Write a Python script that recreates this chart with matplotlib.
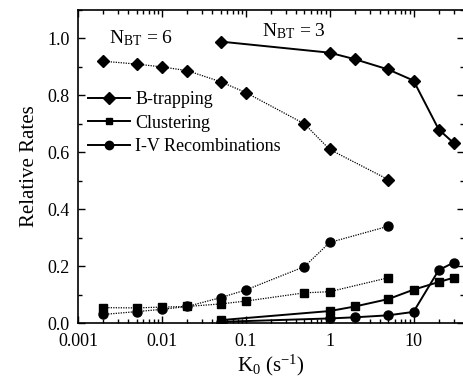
import matplotlib
matplotlib.use("Agg")
import matplotlib.pyplot as plt
from matplotlib.ticker import FixedLocator, FixedFormatter, LogLocator, MultipleLocator, NullFormatter
from matplotlib.lines import Line2D

plt.rcParams['font.family'] = ['Liberation Serif', 'DejaVu Serif']
plt.rcParams['mathtext.fontset'] = 'custom'
plt.rcParams['mathtext.rm'] = 'Liberation Serif'
plt.rcParams['mathtext.it'] = 'Liberation Serif:italic'

# N_BT = 6 (dotted)
k6 = [0.002, 0.005, 0.01, 0.02, 0.05, 0.1, 0.5, 1, 5]
trap6 = [0.92, 0.91, 0.90, 0.887, 0.848, 0.81, 0.70, 0.61, 0.504]
clus6 = [0.054, 0.053, 0.056, 0.058, 0.067, 0.077, 0.106, 0.11, 0.159]
rec6 = [0.03, 0.04, 0.048, 0.058, 0.089, 0.116, 0.198, 0.283, 0.34]

# N_BT = 3 (solid)
k3 = [0.05, 1, 2, 5, 10, 20, 30]
trap3 = [0.989, 0.95, 0.927, 0.891, 0.852, 0.68, 0.633]
clus3 = [0.01, 0.042, 0.058, 0.084, 0.117, 0.144, 0.159]
rec3 = [0.004, 0.016, 0.02, 0.027, 0.039, 0.186, 0.212]

xticks = [0.001, 0.01, 0.1, 1, 10]
xticklabels = ["0.001", "0.01", "0.1", "1", "10"]
yticks = [0.0, 0.2, 0.4, 0.6, 0.8, 1.0]
yticklabels = ["0.0", "0.2", "0.4", "0.6", "0.8", "1.0"]

fig = plt.figure(figsize=(4.63, 3.81), dpi=100)
ax = fig.add_axes([78/463, 1-323/381, (464-78)/463, (323-10)/381])

dot = dict(color='black', linestyle=(0, (1, 1)), linewidth=0.9)
sol = dict(color='black', linestyle='-', linewidth=1.4)

ax.plot(k6, trap6, marker='D', markersize=6, **dot)
ax.plot(k6, clus6, marker='s', markersize=6, **dot)
ax.plot(k6, rec6, marker='o', markersize=6.5, **dot)
ax.plot(k3, trap3, marker='D', markersize=6, **sol)
ax.plot(k3, clus3, marker='s', markersize=6, **sol)
ax.plot(k3, rec3, marker='o', markersize=6.5, **sol)

ax.set_xscale('log')
ax.set_xlim(0.001, 40)
ax.set_ylim(0, 1.1)
ax.xaxis.set_major_locator(FixedLocator(xticks))
ax.xaxis.set_major_formatter(FixedFormatter(xticklabels))
ax.xaxis.set_minor_locator(LogLocator(base=10, subs=range(2, 10), numticks=20))
ax.xaxis.set_minor_formatter(NullFormatter())
ax.yaxis.set_major_locator(FixedLocator(yticks))
ax.yaxis.set_major_formatter(FixedFormatter(yticklabels))
ax.yaxis.set_minor_locator(MultipleLocator(0.1))

ax.tick_params(which='both', direction='in', top=True, right=True, labelsize=13, width=1.0)
ax.tick_params(which='major', length=5)
ax.tick_params(which='minor', length=3)
ax.tick_params(axis='x', which='major', pad=7)
ax.tick_params(axis='y', which='major', pad=6)
for s in ax.spines.values():
    s.set_linewidth(1.2)

ax.set_ylabel("Relative Rates", fontsize=15, labelpad=6)
ax.set_xlabel(r"K$_0$ (s$^{\mathrm{-1}}$)", fontsize=15, labelpad=2)

ax.text(0.0057, 1.0, r"N$_{\mathrm{BT}}$ = 6", fontsize=14, ha='center', va='center')
ax.text(0.38, 1.027, r"N$_{\mathrm{BT}}$ = 3", fontsize=14, ha='center', va='center')

handles = [
    Line2D([], [], color='black', lw=1.4, marker='D', markersize=6),
    Line2D([], [], color='black', lw=1.4, marker='s', markersize=5),
    Line2D([], [], color='black', lw=1.4, marker='o', markersize=6),
]
ax.legend(handles, ["B-trapping", "Clustering", "I-V Recombinations"],
          loc='upper left', bbox_to_anchor=(0.008, 0.7635), frameon=False,
          fontsize=13, handlelength=2.3, handletextpad=0.3, labelspacing=0.35,
          borderaxespad=0.0)

fig.savefig("out.png", dpi=100)
